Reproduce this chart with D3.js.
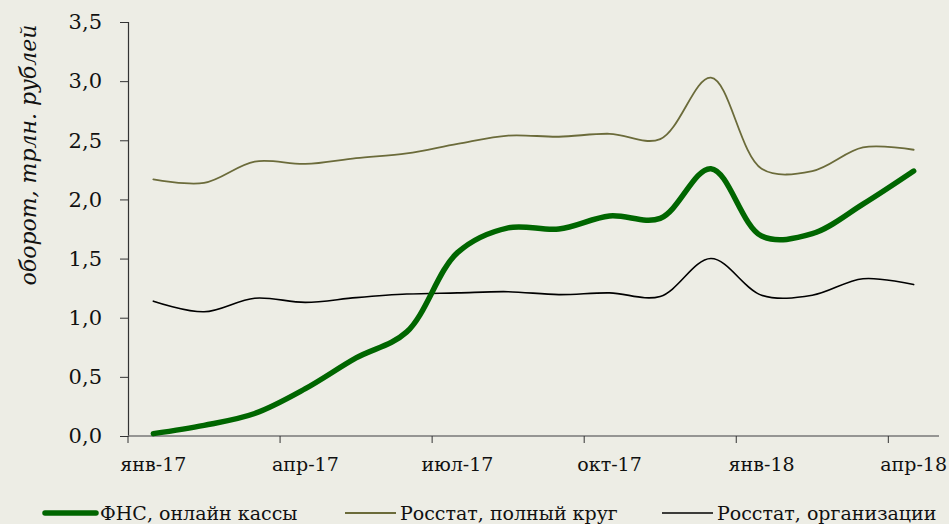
<!DOCTYPE html>
<html>
<head>
<meta charset="utf-8">
<script src="https://cdn.jsdelivr.net/npm/d3@7"></script>
<style>
  body { margin: 0; background: #ededE5; }
  svg { display: block; }
</style>
</head>
<body>
<div id="chart"></div>
<script>
// months, jan-17 .. apr-18
var months = ["янв-17","фев-17","мар-17","апр-17","май-17","июн-17","июл-17","авг-17",
              "сен-17","окт-17","ноя-17","дек-17","янв-18","фев-18","мар-18","апр-18"];
// trillion rubles
var fns      = [0.02, 0.09, 0.19, 0.40, 0.66, 0.88, 1.55, 1.76, 1.75, 1.86, 1.84, 2.26, 1.69, 1.71, 1.96, 2.24];
var fullCirc = [2.17, 2.14, 2.32, 2.30, 2.35, 2.39, 2.47, 2.54, 2.53, 2.555, 2.51, 3.03, 2.26, 2.24, 2.44, 2.42];
var orgs     = [1.14, 1.05, 1.165, 1.13, 1.17, 1.20, 1.21, 1.22, 1.195, 1.21, 1.18, 1.50, 1.19, 1.19, 1.33, 1.28];
var yTicks = [0, 0.5, 1, 1.5, 2, 2.5, 3, 3.5];
var xLabelIdx = [0, 3, 6, 9, 12, 15];

var W = 949, H = 524;
var margin = {top: 22, right: 10, bottom: 88, left: 128};
var FONT = "DejaVu Serif";

var svg = d3.select("#chart").append("svg")
    .attr("width", W).attr("height", H)
    .attr("font-family", FONT);
svg.append("rect").attr("width", W).attr("height", H).attr("fill", "#ededE5");

var x = d3.scaleBand()
    .domain(d3.range(months.length))
    .range([margin.left, 939]);
var y = d3.scaleLinear()
    .domain([0, 3.5])
    .range([H - margin.bottom, margin.top]);

// y axis
var yAxis = svg.append("g")
    .attr("transform", "translate(" + margin.left + ",0)")
    .call(d3.axisLeft(y).tickValues(yTicks).tickSize(8).tickPadding(18)
        .tickFormat(function(d) { return d3.format(".1f")(d).replace(".", ","); }));
yAxis.attr("font-family", FONT);
yAxis.select(".domain").attr("stroke", "#333").attr("stroke-width", 1.2);
yAxis.selectAll(".tick line").attr("stroke", "#333");
yAxis.selectAll("text").attr("font-size", 21).attr("fill", "#111");

// x axis, ticks between categories every 3 months
var xg = svg.append("g").attr("transform", "translate(0," + y(0) + ")");
xg.append("line")
    .attr("x1", margin.left).attr("x2", 939)
    .attr("stroke", "#777").attr("stroke-width", 1.5);
xg.selectAll(".tk").data(xLabelIdx).enter().append("line")
    .attr("x1", function(d) { return x(d); })
    .attr("x2", function(d) { return x(d); })
    .attr("y1", 0).attr("y2", 7)
    .attr("stroke", "#333");
xg.selectAll(".lb").data(xLabelIdx).enter().append("text")
    .attr("x", function(d) { return x(d) + x.bandwidth() / 2; })
    .attr("y", 35)
    .attr("text-anchor", "middle")
    .attr("font-size", 19)
    .attr("fill", "#111")
    .text(function(d) { return months[d]; });

// y title
svg.append("text")
    .attr("transform", "translate(36,155) rotate(-90)")
    .attr("text-anchor", "middle")
    .attr("font-size", 22)
    .attr("font-style", "italic")
    .attr("fill", "#111")
    .text("оборот, трлн. рублей");

var line = d3.line()
    .x(function(d, i) { return x(i) + x.bandwidth() / 2; })
    .y(function(d) { return y(d); })
    .curve(d3.curveCatmullRom.alpha(0.5));

var series = [
  {name: "Росстат, организации", data: orgs, color: "#000000", w: 1.6},
  {name: "Росстат, полный круг", data: fullCirc, color: "#6b6b3a", w: 1.8},
  {name: "ФНС, онлайн кассы", data: fns, color: "#006600", w: 5.5}
];

series.forEach(function(s) {
  svg.append("path")
    .datum(s.data)
    .attr("fill", "none")
    .attr("stroke", s.color)
    .attr("stroke-width", s.w)
    .attr("stroke-linecap", "round")
    .attr("d", line);
});

// legend
var legend = [
  {name: "ФНС, онлайн кассы", color: "#006600", w: 5.5, x: 45},
  {name: "Росстат, полный круг", color: "#6b6b3a", w: 1.8, x: 345},
  {name: "Росстат, организации", color: "#000000", w: 1.6, x: 662}
];
var lg = svg.append("g").attr("transform", "translate(0,513)");
legend.forEach(function(l) {
  lg.append("line")
    .attr("x1", l.x).attr("x2", l.x + 51)
    .attr("stroke", l.color).attr("stroke-width", l.w)
    .attr("stroke-linecap", l.w > 3 ? "round" : "butt");
  lg.append("text")
    .attr("x", l.x + 55).attr("y", 7)
    .attr("font-size", 19)
    .attr("fill", "#111")
    .text(l.name);
});
</script>
</body>
</html>
